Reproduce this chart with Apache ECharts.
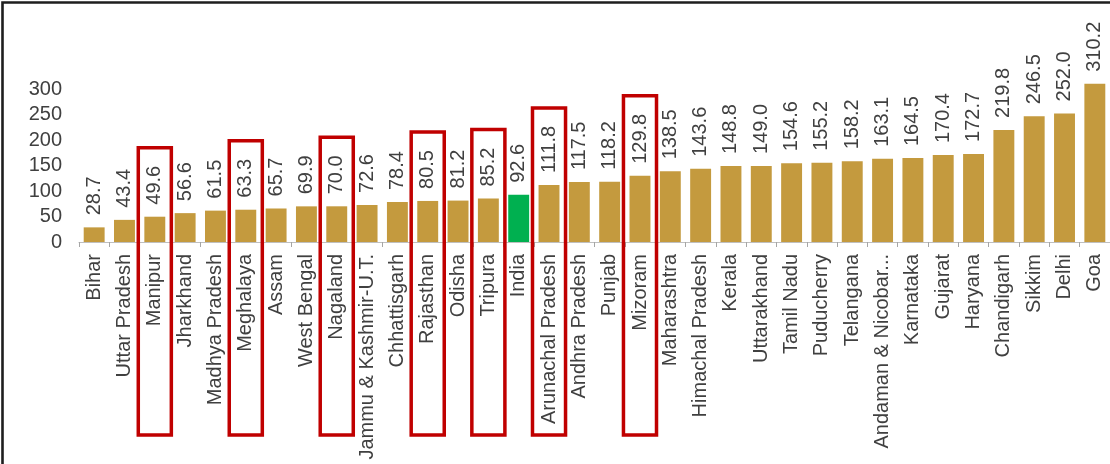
<!DOCTYPE html>
<html>
<head>
<meta charset="utf-8">
<script src="https://cdn.jsdelivr.net/npm/echarts@6/dist/echarts.min.js"></script>
<style>
  html, body { margin: 0; padding: 0; background: #ffffff; }
  #chart { width: 1110px; height: 464px; }
</style>
</head>
<body>
<div id="chart"></div>
<script>
// ---- Data ----
const categories = [
  'Bihar', 'Uttar Pradesh', 'Manipur', 'Jharkhand', 'Madhya Pradesh', 'Meghalaya',
  'Assam', 'West Bengal', 'Nagaland', 'Jammu & Kashmir-U.T.', 'Chhattisgarh',
  'Rajasthan', 'Odisha', 'Tripura', 'India', 'Arunachal Pradesh', 'Andhra Pradesh',
  'Punjab', 'Mizoram', 'Maharashtra', 'Himachal Pradesh', 'Kerala', 'Uttarakhand',
  'Tamil Nadu', 'Puducherry', 'Telangana', 'Andaman & Nicobar...', 'Karnataka',
  'Gujarat', 'Haryana', 'Chandigarh', 'Sikkim', 'Delhi', 'Goa'
];
const values = [
  28.7, 43.4, 49.6, 56.6, 61.5, 63.3,
  65.7, 69.9, 70.0, 72.6, 78.4,
  80.5, 81.2, 85.2, 92.6, 111.8, 117.5,
  118.2, 129.8, 138.5, 143.6, 148.8, 149.0,
  154.6, 155.2, 158.2, 163.1, 164.5,
  170.4, 172.7, 219.8, 246.5, 252.0, 310.2
];
const yTicks = [0, 50, 100, 150, 200, 250, 300];
const nationalCategory = 'India';
const highlighted = ['Manipur', 'Meghalaya', 'Nagaland', 'Rajasthan', 'Tripura', 'Arunachal Pradesh', 'Mizoram'];

// ---- Styles ----
const FONT = '"Liberation Sans", Arial, sans-serif';
const TEXT = '#404040';
const BAR = '#C49A3E';
const GREEN = '#00B050';
const RED = '#C00000';
const LABEL_SIZE = 20;
const LABEL_DIST = 12;

const measureCtx = document.createElement('canvas').getContext('2d');
measureCtx.font = LABEL_SIZE + 'px ' + FONT;
function textLen(s) { return measureCtx.measureText(s).width; }
function fmt(v) { return Number(v).toFixed(1); }

const barData = values.map((v, i) => {
  const item = { value: v };
  if (categories[i] === nationalCategory) item.itemStyle = { color: GREEN };
  return item;
});

const boxData = highlighted.map(name => {
  const idx = categories.indexOf(name);
  return [idx, values[idx]];
});

const chart = echarts.init(document.getElementById('chart'), null, { renderer: 'canvas' });

chart.setOption({
  animation: false,
  backgroundColor: '#ffffff',
  textStyle: { fontFamily: FONT },
  graphic: [{
    type: 'rect',
    left: 0, top: 0,
    shape: { x: 10, y: 10.7, width: 1300, height: 800 },
    style: { fill: 'none', stroke: '#1e1e1e', lineWidth: 2.6 },
    silent: true,
    z: -10
  }],
  grid: { left: 79, right: 0, top: 89, bottom: 222, containLabel: false },
  xAxis: {
    type: 'category',
    data: categories,
    axisLine: { show: true, lineStyle: { color: '#BFBFBF', width: 1.2 } },
    axisTick: { show: true, alignWithLabel: false, length: 5, lineStyle: { color: '#A6A6A6' } },
    axisLabel: {
      interval: 0, rotate: 90, margin: 12,
      fontSize: LABEL_SIZE, color: TEXT, fontFamily: FONT
    },
    splitLine: { show: false }
  },
  yAxis: {
    type: 'value',
    min: yTicks[0], max: yTicks[yTicks.length - 1], interval: yTicks[1] - yTicks[0],
    axisLine: { show: false },
    axisTick: { show: false },
    splitLine: { show: false },
    axisLabel: { fontSize: LABEL_SIZE, color: TEXT, margin: 17, fontFamily: FONT }
  },
  series: [
    {
      type: 'bar',
      data: barData,
      barWidth: '69%',
      clip: false,
      itemStyle: { color: BAR },
      label: {
        show: true, position: 'top', rotate: 90, distance: LABEL_DIST,
        align: 'left', verticalAlign: 'middle',
        fontSize: LABEL_SIZE, color: TEXT, fontFamily: FONT,
        formatter: p => fmt(p.value)
      }
    },
    {
      type: 'custom',
      data: boxData,
      clip: false,
      z: 5,
      renderItem: function (params, api) {
        const idx = api.value(0);
        const v = api.value(1);
        const top = api.coord([idx, v]);
        const base = api.coord([idx, 0]);
        const bandW = api.size([1, 0])[0];
        const halfW = bandW * 0.545;
        const labelTop = top[1] - LABEL_DIST - textLen(fmt(v));
        const y1 = labelTop - 18;
        const y2 = base[1] + 193;
        return {
          type: 'rect',
          shape: { x: top[0] - halfW, y: y1, width: halfW * 2, height: y2 - y1 },
          style: { fill: 'none', stroke: RED, lineWidth: 3.5 }
        };
      }
    }
  ]
});
</script>
</body>
</html>
